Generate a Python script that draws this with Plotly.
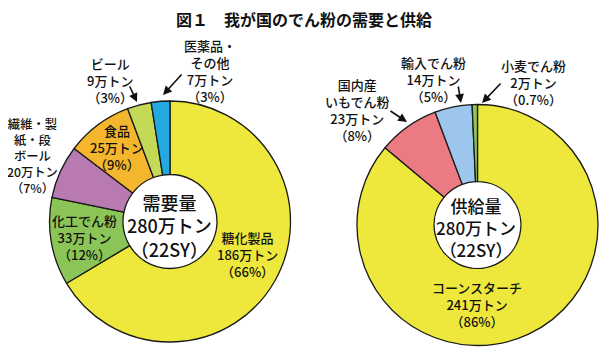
import plotly.graph_objects as go

W, H = 607, 358
OFF = 8  # page body margin offset

# Demand (需要)
demand_labels = ["糖化製品", "化工でん粉", "繊維・製紙・段ボール", "食品", "ビール", "医薬品・その他"]
demand_values = [186, 33, 20, 25, 9, 7]
demand_colors = ["#EDE83B", "#8CC557", "#B97AB2", "#F3B62D", "#C4DA57", "#24A8E0"]

# Supply (供給)
supply_labels = ["コーンスターチ", "国内産いもでん粉", "輸入でん粉", "小麦でん粉"]
supply_values = [241, 23, 14, 2]
supply_colors = ["#EDE83B", "#EB7A82", "#9DC6EC", "#8CC557"]

FONT = "Noto Sans CJK JP"


def px(x):
    return (x - OFF) / W


def py(y):
    return 1 - (y - OFF) / H


fig = go.Figure()
fig.add_trace(go.Pie(
    labels=demand_labels, values=demand_values, sort=False,
    direction="clockwise", rotation=0, hole=0.39,
    marker=dict(colors=demand_colors, line=dict(color="#1a1a1a", width=1.3)),
    textinfo="none", hoverinfo="label+value",
    domain=dict(x=[px(49.5), px(290.5)], y=[py(342), py(101)]),
    showlegend=False,
))
fig.add_trace(go.Pie(
    labels=supply_labels, values=supply_values, sort=False,
    direction="clockwise", rotation=0, hole=0.36,
    marker=dict(colors=supply_colors, line=dict(color="#1a1a1a", width=1.3)),
    textinfo="none", hoverinfo="label+value",
    domain=dict(x=[px(357), px(598)], y=[py(345.5), py(104.5)]),
    showlegend=False,
))

ann = []


def label(x, y, text, size=13, weight=500):
    ann.append(dict(x=px(x), y=py(y), xref="paper", yref="paper", text=text,
                    showarrow=False, xanchor="center", yanchor="middle",
                    font=dict(family=FONT, size=size, color="#111", weight=weight)))


def arrow(x0, y0, x1, y1):
    ann.append(dict(x=px(x1), y=py(y1), xref="paper", yref="paper",
                    ax=x0 - x1, ay=y0 - y1, axref="pixel", ayref="pixel",
                    text="", showarrow=True, arrowhead=2, arrowsize=1.1,
                    arrowwidth=1.6, arrowcolor="#111"))


# title
label(304, 19, "図１　我が国のでん粉の需要と供給", size=16, weight=600)

# center texts
label(169, 225, "需要量<br>280万トン<br>（22SY）", size=18)
label(476, 227, "供給量<br>280万トン<br>（22SY）", size=17)

# demand labels
label(210, 71, "医薬品・<br>その他<br>7万トン<br>（3%）")
label(110, 80, "ビール<br>9万トン<br>（3%）")
label(33, 156, "繊維・製<br>紙・段<br>ボール<br>20万トン<br>（7%）", size=12.3)
label(117, 148, "食品<br>25万トン<br>（9%）")
label(84, 237, "化工でん粉<br>33万トン<br>（12%）")
label(247, 254, "糖化製品<br>186万トン<br>（66%）")
arrow(129, 85, 137, 102)
arrow(183, 73, 163, 95)

# supply labels
label(357, 110, "国内産<br>いもでん粉<br>23万トン<br>（8%）")
label(433, 79, "輸入でん粉<br>14万トン<br>（5%）")
label(533, 82, "小麦でん粉<br>2万トン<br>（0.7%）")
label(477, 304, "コーンスターチ<br>241万トン<br>（86%）")
arrow(389, 110, 407, 122)
arrow(458, 85, 461, 103)
arrow(502, 82, 482, 103)

fig.update_layout(
    width=W, height=H, margin=dict(l=0, r=0, t=0, b=0),
    paper_bgcolor="white", plot_bgcolor="white",
    annotations=ann, font=dict(family=FONT),
)

fig.write_html("out.html")
